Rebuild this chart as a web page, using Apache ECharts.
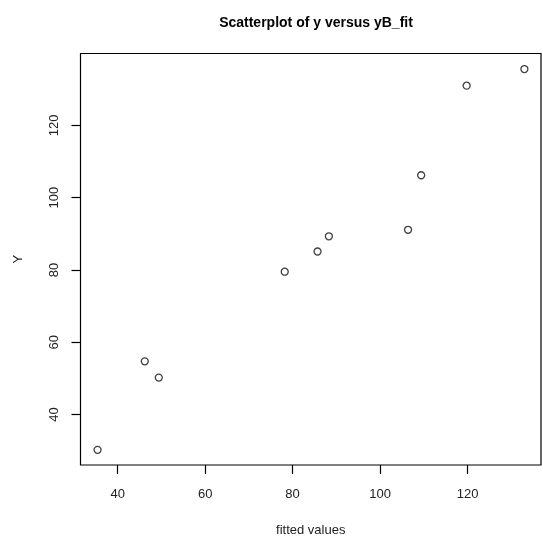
<!DOCTYPE html>
<html>
<head>
<meta charset="utf-8">
<script src="https://cdn.jsdelivr.net/npm/echarts@6/dist/echarts.min.js"></script>
<style>
  html, body { margin: 0; padding: 0; background: #fff; }
  #chart { width: 543px; height: 538px; }
</style>
</head>
<body>
<div id="chart"></div>
<script>
// fitted values (x) and observed y
const fittedValues = [35.4, 46.2, 49.4, 78.2, 85.7, 88.3, 106.4, 109.4, 119.8, 133.0];
const yValues = [30.2, 54.7, 50.2, 79.5, 85.1, 89.3, 91.1, 106.2, 131.0, 135.6];
const xTicks = [40, 60, 80, 100, 120];
const yTicks = [40, 60, 80, 100, 120];

const points = fittedValues.map((v, i) => [v, yValues[i]]);
const textColor = '#222';
const font = 'Liberation Sans, Arial, sans-serif';

const chart = echarts.init(document.getElementById('chart'));
chart.setOption({
  backgroundColor: '#fff',
  animation: false,
  title: {
    text: 'Scatterplot of y versus yB_fit',
    left: 311,
    top: 11,
    textAlign: 'center',
    textStyle: { fontFamily: font, fontSize: 14, fontWeight: 'bold', color: '#000' }
  },
  grid: {
    left: 80.5, right: 2, top: 53.5, bottom: 73,
    outerBoundsMode: 'none',
    show: true, borderColor: '#000', borderWidth: 1.2, backgroundColor: 'transparent'
  },
  xAxis: {
    type: 'value',
    min: 31.5,
    max: 136.8,
    name: 'fitted values',
    nameLocation: 'middle',
    nameGap: 59,
    nameTextStyle: { fontFamily: font, fontSize: 13, color: textColor },
    axisLine: { show: false },
    splitLine: { show: false },
    axisTick: { show: true, length: 9, customValues: xTicks, lineStyle: { color: '#000', width: 1.2 } },
    axisLabel: { customValues: xTicks, margin: 23, fontFamily: font, fontSize: 13, color: textColor }
  },
  yAxis: {
    type: 'value',
    min: 26,
    max: 139.9,
    name: 'Y',
    nameLocation: 'middle',
    nameGap: 56,
    nameTextStyle: { fontFamily: font, fontSize: 13, color: textColor },
    axisLine: { show: false },
    splitLine: { show: false },
    axisTick: { show: true, length: 9, customValues: yTicks, lineStyle: { color: '#000', width: 1.2 } },
    axisLabel: { customValues: yTicks, rotate: 90, margin: 20, fontFamily: font, fontSize: 13, color: textColor }
  },
  series: [{
    type: 'scatter',
    data: points,
    symbol: 'circle',
    symbolSize: 7,
    itemStyle: { color: '#fff', borderColor: '#111', borderWidth: 1.3 }
  }]
});
</script>
</body>
</html>
